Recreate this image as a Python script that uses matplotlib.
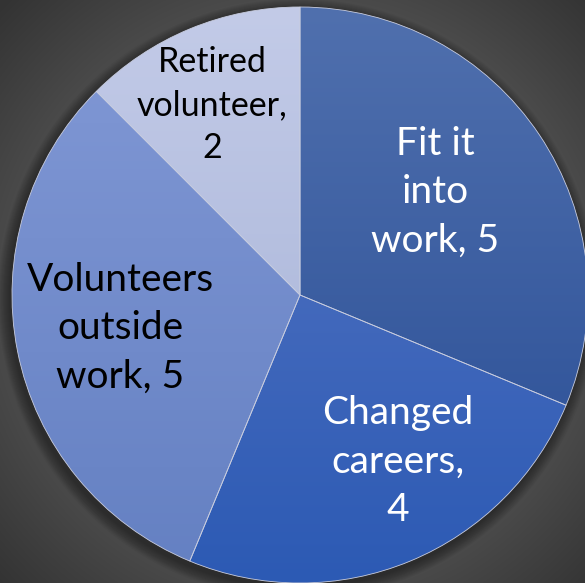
import numpy as np
import matplotlib as mpl
mpl.use('Agg')
import matplotlib.pyplot as plt
from matplotlib.colors import to_rgb

labels = ['Fit it\ninto\nwork, 5', 'Changed\ncareers,\n4', 'Volunteers\noutside\nwork, 5', 'Retired\nvolunteer,\n2']
values = [5, 4, 5, 2]
# top / bottom colour of the vertical gradient in each slice
top_colors = ['#5070AE', '#5A78C4', '#8299D6', '#C3CBE8']
bottom_colors = ['#274C94', '#2C5AB4', '#6480C2', '#A2AFD4']
text_colors = ['white', 'white', 'black', 'black']
label_dist = [0.59, 0.67, 0.635, 0.727]
label_shift = [3.5, 7.9, -0.8, 2.3]  # degrees
font_sizes = [28, 28, 28, 24.5]

W, H = 585, 583
cx, cy, R = 300, H - 295, 288

fig = plt.figure(figsize=(W / 100, H / 100), dpi=100)
ax = fig.add_axes([0, 0, 1, 1])

# radial background
yy, xx = np.mgrid[0:H, 0:W]
rr = np.hypot(xx - cx, (H - yy) - cy)
t = np.clip((rr - R) / 130, 0, 1)
c1, c2 = np.array(to_rgb('#4c4c4c')), np.array(to_rgb('#333333'))
bg = c1[None, None, :] * (1 - t[..., None]) + c2[None, None, :] * t[..., None]
ax.imshow(bg, extent=(0, W, 0, H), origin='upper', zorder=0)

# soft shadow
for i in range(12):
    sh = plt.Circle((cx - 2, cy - 4), R + 12 - i, color='black', alpha=0.035, lw=0, zorder=1)
    ax.add_patch(sh)

wedges, _ = ax.pie(values, radius=R, center=(cx, cy), startangle=90, counterclock=False,
                   wedgeprops=dict(edgecolor='#c8cde0', linewidth=0.6), frame=True)
ax.set_xlim(0, W)
ax.set_ylim(0, H)
ax.set_aspect('equal')
ax.axis('off')

for i, w in enumerate(wedges):
    w.set_facecolor('none')
    w.set_zorder(3)
    g = np.linspace(0, 1, 256)[:, None]
    ct, cb = np.array(to_rgb(top_colors[i])), np.array(to_rgb(bottom_colors[i]))
    img = ct[None, None, :] * (1 - g[..., None]) + cb[None, None, :] * g[..., None]
    img = np.repeat(img, 2, axis=1)
    im = ax.imshow(img, extent=(cx - R, cx + R, cy - R, cy + R), origin='upper',
                   aspect='auto', zorder=2)
    im.set_clip_path(w)
    ang = np.deg2rad(w.theta1 + (w.theta2 - w.theta1) / 2 + label_shift[i])
    tx = cx + label_dist[i] * R * np.cos(ang)
    ty = cy + label_dist[i] * R * np.sin(ang)
    ax.text(tx, ty, labels[i], ha='center', va='center', multialignment='center',
            fontsize=font_sizes[i], family='Lato', color=text_colors[i], linespacing=1.42, zorder=4)

fig.savefig('out.png', dpi=100)
